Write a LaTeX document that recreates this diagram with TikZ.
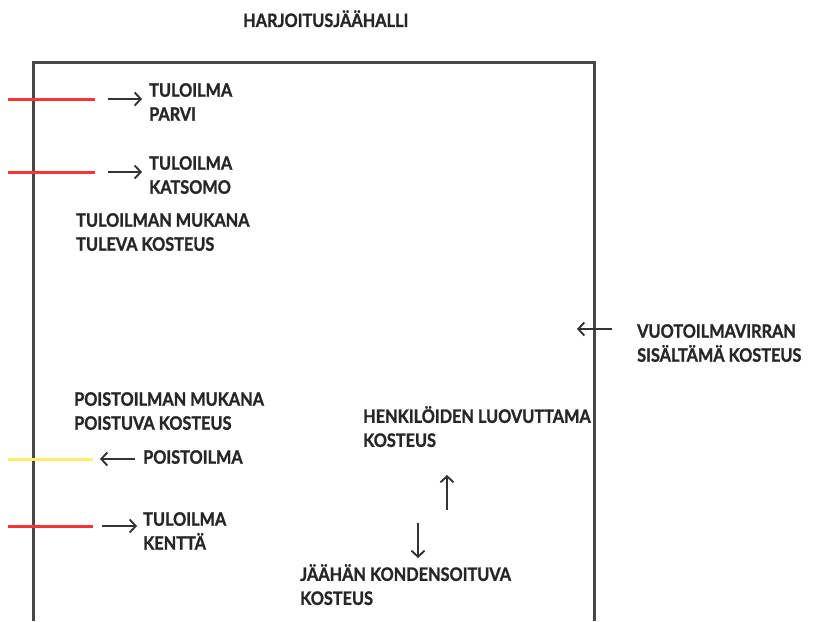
\documentclass[tikz,border=0pt]{standalone}
\usepackage{fontspec}
\setmainfont{Lato}[FakeStretch=0.88, BoldFeatures={FakeBold=1.2}]
\usetikzlibrary{arrows.meta,positioning}

\begin{document}
\begin{tikzpicture}[
  x=1pt, y=-1pt,
  lbl/.style={anchor=north west, inner sep=0pt, align=left, font=\fontsize{18.5}{24}\selectfont\bfseries, text=black!85},
  wall/.style={draw=black!72, line width=3pt},
  duct/.style={line width=3pt},
  arr/.style={-{Straight Barb[length=6pt,width=13pt]}, line width=1.9pt, draw=black!80}
]
\useasboundingbox (0,0) rectangle (819,621);

% hallin seinat (alareuna auki)
\draw[wall] (33,621) -- (33,62) -- (594,62) -- (594,621);

\node[lbl, anchor=base west] (halli) at (243,27) {HARJOITUSJÄÄHALLI};

% kanavat
\draw[duct, red!80] (8,99) -- (95,99);
\draw[duct, red!80] (8,172) -- (95,172);
\draw[duct, yellow!90!orange!60] (8,459) -- (93,459);
\draw[duct, red!80] (8,526) -- (93,526);

% tekstit
\node[lbl] (parvi) at (149,83) {TULOILMA\\PARVI};
\node[lbl] (katsomo) at (149,156) {TULOILMA\\KATSOMO};
\node[lbl] (tuleva) at (76,213) {TULOILMAN MUKANA\\TULEVA KOSTEUS};
\node[lbl] (vuoto) at (637,324) {VUOTOILMAVIRRAN\\SISÄLTÄMÄ KOSTEUS};
\node[lbl] (poistuva) at (74,392) {POISTOILMAN MUKANA\\POISTUVA KOSTEUS};
\node[lbl] (poisto) at (143,450) {POISTOILMA};
\node[lbl] (kentta) at (143,512) {TULOILMA\\KENTTÄ};
\node[lbl] (henk) at (363,406) {HENKILÖIDEN LUOVUTTAMA\\KOSTEUS};
\node[lbl] (jaa) at (300,564) {JÄÄHÄN KONDENSOITUVA\\KOSTEUS};

% nuolet
\coordinate (parvi tail) at (108,99);
\coordinate (katsomo tail) at (108,172);
\coordinate (vuoto tail) at (612,329);
\coordinate (poisto tail) at (135,459);
\coordinate (kentta tail) at (102,526);
\coordinate (henk tail) at (447,510);
\coordinate (jaa tail) at (418,523);

\draw[arr] (parvi tail) -- ++(34,0);
\draw[arr] (katsomo tail) -- ++(34,0);
\draw[arr] (vuoto tail) -- ++(-35,0);
\draw[arr] (poisto tail) -- ++(-35,0);
\draw[arr] (kentta tail) -- ++(35,0);
\draw[arr] (henk tail) -- ++(0,-35);
\draw[arr] (jaa tail) -- ++(0,35);
\end{tikzpicture}
\end{document}
